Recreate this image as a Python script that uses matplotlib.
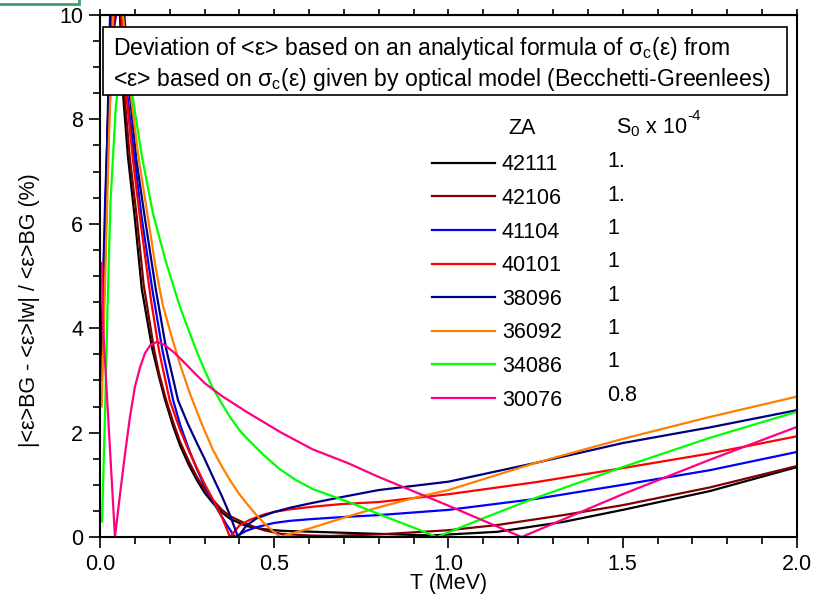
import matplotlib
matplotlib.use('Agg')
import matplotlib.pyplot as plt
from matplotlib.patches import Rectangle
from matplotlib.ticker import MultipleLocator, NullLocator
import numpy as np

plt.rcParams['font.family'] = ['Liberation Sans', 'DejaVu Sans']
plt.rcParams['mathtext.fontset'] = 'custom'
plt.rcParams['mathtext.rm'] = 'Liberation Sans'
plt.rcParams['mathtext.it'] = 'Liberation Sans:italic'

# curves, T in MeV, deviation in %
x_42111 = [0.005, 0.015, 0.025, 0.035, 0.045, 0.055, 0.066, 0.08, 0.1, 0.12, 0.15, 0.17, 0.187, 0.21, 0.23,
           0.255, 0.278, 0.3, 0.324, 0.35, 0.373, 0.42, 0.47, 0.52, 0.66, 0.8, 0.95, 1.14, 1.33, 1.5, 1.75, 2.0]
y_42111 = [3.0, 5.5, 8.0, 10.0, 11.0, 10.4, 8.5, 7.3, 6.1, 4.75, 3.6, 3.05, 2.62, 2.12, 1.75,
           1.38, 1.09, 0.85, 0.65, 0.47, 0.35, 0.21, 0.15, 0.12, 0.09, 0.06, 0.03, 0.1, 0.29, 0.52, 0.88, 1.34]

x_42106 = [0.005, 0.015, 0.025, 0.035, 0.045, 0.055, 0.07, 0.085, 0.106, 0.125, 0.155, 0.17, 0.19, 0.21, 0.23,
           0.255, 0.278, 0.3, 0.324, 0.35, 0.373, 0.42, 0.47, 0.52, 0.6, 0.66, 0.8, 1.0, 1.14, 1.33, 1.5, 1.75, 2.0]
y_42106 = [3.5, 6.0, 8.5, 10.2, 11.0, 10.6, 8.5, 7.3, 6.1, 4.85, 3.6, 3.12, 2.62, 2.2, 1.82,
           1.45, 1.15, 0.92, 0.71, 0.52, 0.4, 0.25, 0.13, 0.06, 0.03, 0.02, 0.05, 0.13, 0.23, 0.42, 0.61, 0.95, 1.36]

x_41104 = [0.005, 0.015, 0.025, 0.035, 0.046, 0.058, 0.068, 0.078, 0.1, 0.12, 0.15, 0.18, 0.21, 0.23,
           0.255, 0.278, 0.3, 0.324, 0.345, 0.365, 0.387, 0.42, 0.45, 0.5, 0.545, 0.6, 0.69, 0.8, 1.0, 1.25, 1.5, 1.75, 2.0]
y_41104 = [4.0, 6.5, 8.4, 9.5, 10.0, 10.8, 10.0, 8.5, 7.2, 6.1, 4.75, 3.55, 2.62, 2.15,
           1.68, 1.3, 0.98, 0.68, 0.44, 0.22, 0.0, 0.12, 0.19, 0.27, 0.31, 0.34, 0.38, 0.42, 0.52, 0.73, 1.0, 1.28, 1.63]

x_40101 = [0.005, 0.015, 0.025, 0.04, 0.05, 0.062, 0.075, 0.095, 0.115, 0.145, 0.17, 0.2, 0.23, 0.255, 0.278,
           0.3, 0.324, 0.35, 0.373, 0.4, 0.43, 0.47, 0.5, 0.545, 0.61, 0.69, 0.8, 1.0, 1.25, 1.5, 1.75, 2.0]
y_40101 = [3.0, 5.5, 7.8, 10.0, 11.0, 10.0, 8.5, 7.2, 6.1, 4.6, 3.55, 2.62, 2.05, 1.65, 1.32,
           1.02, 0.72, 0.38, 0.0, 0.22, 0.33, 0.43, 0.48, 0.53, 0.58, 0.63, 0.67, 0.82, 1.05, 1.32, 1.6, 1.93]

x_38096 = [0.005, 0.015, 0.022, 0.029, 0.045, 0.06, 0.07, 0.085, 0.105, 0.129, 0.16, 0.19, 0.224, 0.25, 0.278,
           0.3, 0.324, 0.35, 0.373, 0.396, 0.42, 0.45, 0.5, 0.545, 0.6, 0.69, 0.8, 1.0, 1.25, 1.5, 1.75, 2.0]
y_38096 = [3.5, 6.0, 8.0, 10.0, 11.5, 11.0, 10.0, 8.5, 7.2, 6.1, 4.75, 3.6, 2.62, 2.2, 1.8,
           1.5, 1.15, 0.78, 0.42, 0.0, 0.22, 0.36, 0.48, 0.56, 0.64, 0.76, 0.9, 1.06, 1.42, 1.8, 2.1, 2.43]

x_36092 = [0.005, 0.015, 0.025, 0.037, 0.05, 0.066, 0.088, 0.11, 0.138, 0.16, 0.18, 0.205, 0.23, 0.258, 0.29, 0.324,
           0.35, 0.373, 0.4, 0.42, 0.445, 0.47, 0.495, 0.516, 0.55, 0.6, 0.69, 0.8, 0.92, 1.0, 1.25, 1.5, 1.75, 2.0]
y_36092 = [2.5, 5.0, 7.5, 10.0, 11.0, 10.0, 8.5, 7.3, 6.1, 5.15, 4.45, 3.85, 3.3, 2.75, 2.2, 1.67,
           1.35, 1.09, 0.82, 0.65, 0.45, 0.27, 0.12, 0.0, 0.07, 0.16, 0.35, 0.57, 0.78, 0.9, 1.42, 1.88, 2.3, 2.69]

x_34086 = [0.006, 0.015, 0.022, 0.03, 0.045, 0.06, 0.075, 0.092, 0.12, 0.152, 0.19, 0.23, 0.255, 0.278, 0.3,
           0.324, 0.35, 0.373, 0.4, 0.42, 0.468, 0.516, 0.56, 0.61, 0.66, 0.71, 0.8, 0.9, 0.967, 1.1, 1.234, 1.5, 1.75, 2.0]
y_34086 = [0.3, 2.5, 4.5, 6.4, 8.2, 9.2, 9.4, 8.5, 7.3, 6.2, 5.25, 4.4, 3.95, 3.55, 3.2,
           2.85, 2.55, 2.3, 2.05, 1.9, 1.58, 1.3, 1.1, 0.92, 0.8, 0.68, 0.44, 0.18, 0.0, 0.36, 0.71, 1.34, 1.9, 2.4]

x_30076 = [0.005, 0.009, 0.043, 0.058, 0.072, 0.086, 0.1, 0.115, 0.129, 0.145, 0.164, 0.185, 0.21, 0.235, 0.27,
           0.3, 0.35, 0.42, 0.52, 0.61, 0.71, 0.8, 1.0, 1.21, 1.5, 1.75, 2.0]
y_30076 = [5.25, 4.0, 0.0, 0.85, 1.6, 2.3, 2.87, 3.25, 3.52, 3.68, 3.74, 3.68, 3.55, 3.39, 3.15,
           2.95, 2.7, 2.4, 2.0, 1.68, 1.42, 1.15, 0.6, 0.0, 0.82, 1.48, 2.11]

za_labels = ['42111', '42106', '41104', '40101', '38096', '36092', '34086', '30076']
s0_values = ['1.', '1.', '1', '1', '1', '1', '1', '0.8']
colors = ['#000000', '#800000', '#0000ff', '#ff0000', '#000080', '#ff8000', '#00ff00', '#ff0080']
xs = [x_42111, x_42106, x_41104, x_40101, x_38096, x_36092, x_34086, x_30076]
ys = [y_42111, y_42106, y_41104, y_40101, y_38096, y_36092, y_34086, y_30076]

fig = plt.figure(figsize=(8.27, 6.04), dpi=100)
ax = fig.add_axes([0.1209, 0.1109, 0.8428, 0.8643])

handles = []
for x, y, c, lab in zip(xs, ys, colors, za_labels):
    h, = ax.plot(x, y, color=c, lw=1.6, label=lab)
    handles.append(h)

ax.set_xlim(0, 2.0)
ax.set_ylim(0, 10)
ax.xaxis.set_major_locator(MultipleLocator(0.5))
ax.xaxis.set_minor_locator(MultipleLocator(0.1))
ax.yaxis.set_major_locator(MultipleLocator(2))
ax.yaxis.set_minor_locator(MultipleLocator(0.5))
ax.tick_params(which='major', direction='out', length=8, width=1.2, labelsize=15.5, pad=4)
ax.tick_params(which='minor', direction='out', length=5, width=1.2)
for s in ax.spines.values():
    s.set_linewidth(1.5)

secax = ax.secondary_xaxis('top')
secax.set_xticks(np.arange(0, 2.01, 0.1))
secax.xaxis.set_minor_locator(NullLocator())
secax.tick_params(direction='out', length=4, width=1.2, labeltop=False)

ax.set_xlabel('T (MeV)', fontsize=15.5, labelpad=-1)
ax.set_ylabel('|<ε>BG - <ε>lw| / <ε>BG (%)', fontsize=15.5)
ax.yaxis.set_label_coords(-0.086, 0.435)

# annotation box
ax.add_patch(Rectangle((0.0043, 0.847), 0.9814, 0.130, transform=ax.transAxes,
                       facecolor='white', edgecolor='black', lw=1.2, zorder=5))
ax.text(0.0187, 0.936, 'Deviation of <ε> based on an analytical formula of σ$_\\mathrm{c}$(ε) from',
        transform=ax.transAxes, fontsize=16.6, va='center', ha='left', zorder=6)
ax.text(0.0187, 0.877, '<ε> based on σ$_\\mathrm{c}$(ε) given by optical model (Becchetti-Greenlees)',
        transform=ax.transAxes, fontsize=16.6, va='center', ha='left', zorder=6)

# legend with two columns of text
ax.legend(handles=handles, loc='upper left', bbox_to_anchor=(0.4763, 0.733), frameon=False,
          handlelength=2.95, handletextpad=0.3, labelspacing=0.585, fontsize=15.5,
          borderpad=0, borderaxespad=0)
ax.text(0.5854, 0.7835, 'ZA', transform=ax.transAxes, fontsize=15.5, va='center')
hdr = ax.text(0.7403, 0.7835, 'S$_0$ x 10', transform=ax.transAxes, fontsize=15.5, va='center')
ax.annotate('-4', xy=(1.0, 0.72), xycoords=hdr, fontsize=11, va='bottom', ha='left')
for i, s0 in enumerate(s0_values):
    ypx = 162 + 33.3 * i
    ax.text(0.7274, (537 - ypx) / 522, s0, transform=ax.transAxes, fontsize=15.5, va='center')

# green frame fragment in the top-left corner of the screenshot
fig.add_artist(Rectangle((-0.01, 0.9934), 0.1055, 0.03, transform=fig.transFigure,
                         facecolor='none', edgecolor='#3c9f6c', lw=2))

fig.savefig('out.png', dpi=100)
